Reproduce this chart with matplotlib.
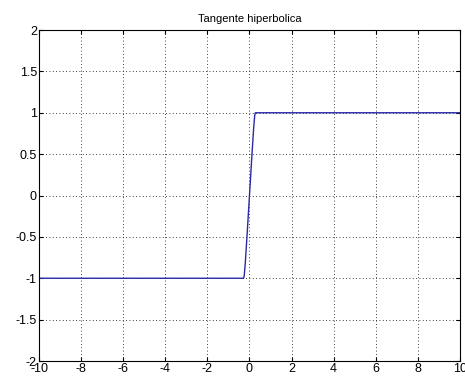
import matplotlib
matplotlib.use('Agg')
import matplotlib.pyplot as plt

plt.rcParams['font.family'] = ['Liberation Sans', 'DejaVu Sans']

# tanh curve, sampled points
x = [-10, -0.28, -0.25, -0.2, -0.15, -0.1, -0.05, 0, 0.05, 0.1, 0.15, 0.2, 0.25, 0.28, 10]
y = [-1, -1, -0.97, -0.82, -0.62, -0.42, -0.21, 0, 0.21, 0.42, 0.62, 0.82, 0.97, 1, 1]

xticks = [-10, -8, -6, -4, -2, 0, 2, 4, 6, 8, 10]
yticks = [-2, -1.5, -1, -0.5, 0, 0.5, 1, 1.5, 2]
ylabels = ['-2', '-1.5', '-1', '-0.5', '0', '0.5', '1', '1.5', '2']

fig = plt.figure(figsize=(4.65, 3.8), dpi=100)
ax = fig.add_axes([0.084, 0.05, 0.905, 0.871])
ax.plot(x, y, color='#2a2aa6', linewidth=1.0)
ax.set_xlim(-10, 10)
ax.set_ylim(-2, 2)
ax.set_xticks(xticks)
ax.set_xticklabels([str(t) for t in xticks])
ax.set_yticks(yticks)
ax.set_yticklabels(ylabels)
ax.grid(True, color='black', linestyle=(0, (1, 3)), linewidth=0.6)
ax.tick_params(direction='in', top=True, right=True, length=3, labelsize=9, pad=1.5)
for s in ax.spines.values():
    s.set_linewidth(0.8)
ax.set_title('Tangente hiperbolica', fontsize=8, pad=6)

fig.savefig('out.png', dpi=100)
